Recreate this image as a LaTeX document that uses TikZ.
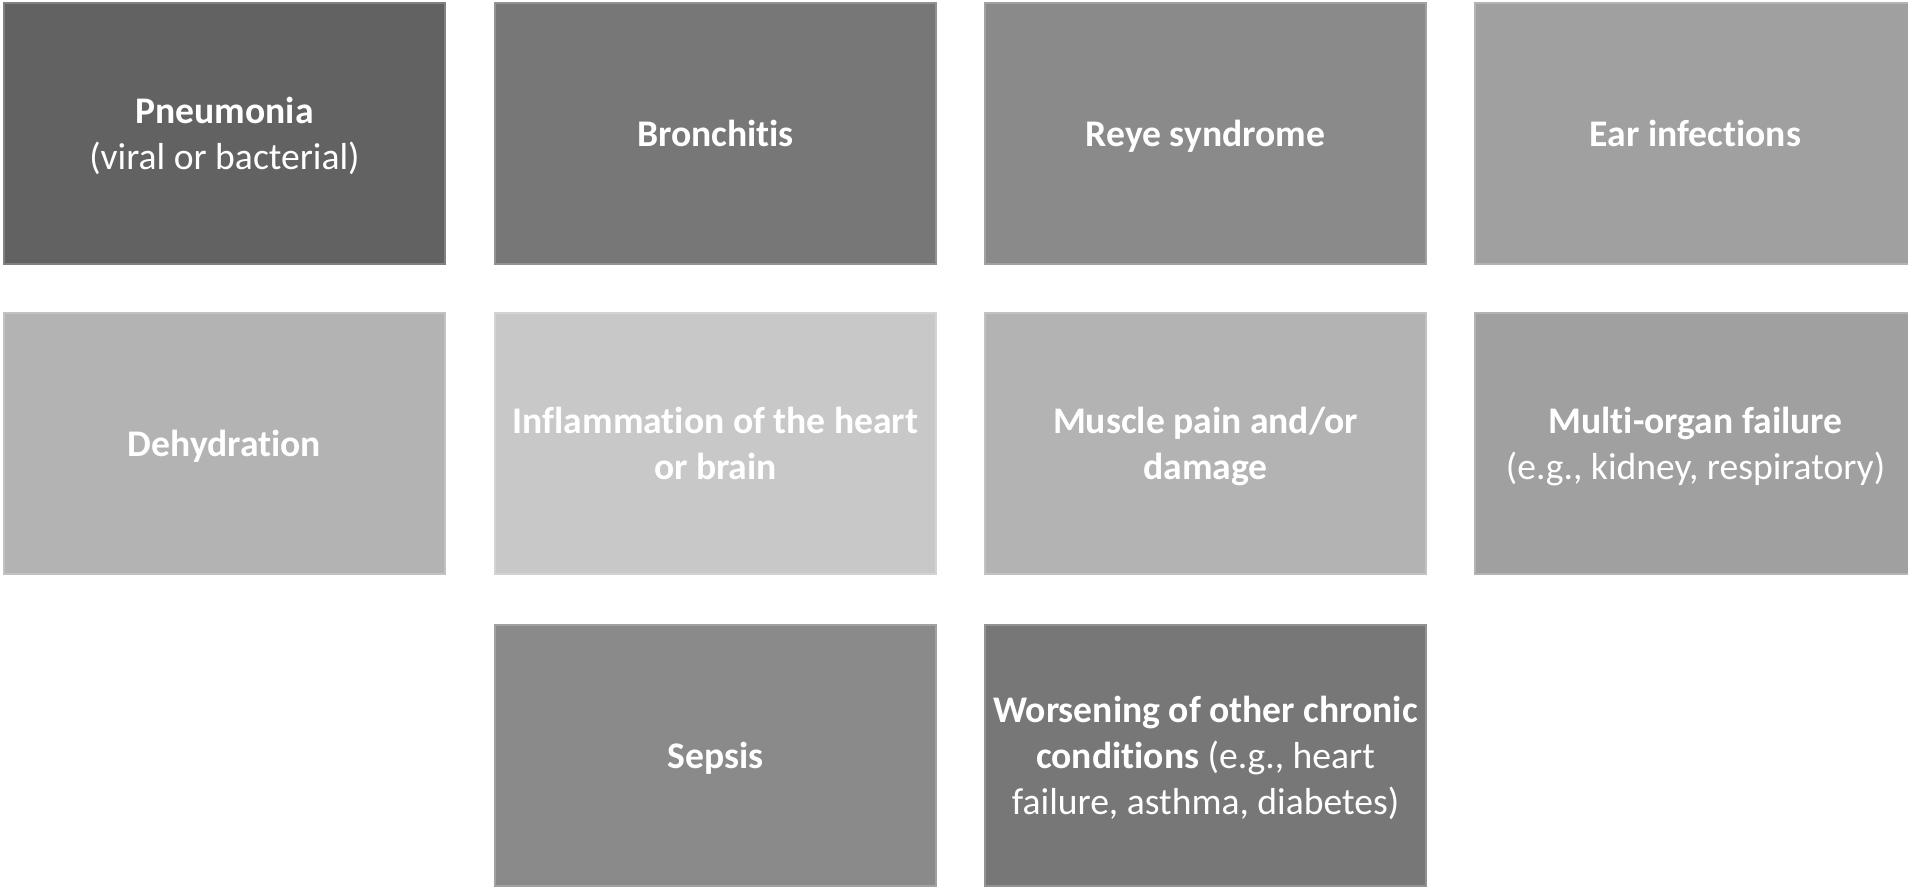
\documentclass[tikz,border=0pt]{standalone}
\usepackage{fontspec}
\setmainfont{Carlito}[RawFeature={-liga;-clig;-calt;-dlig}]
\usepackage{tikz}
\usetikzlibrary{positioning}

\definecolor{greyA}{gray}{0.384}
\definecolor{greyB}{gray}{0.467}
\definecolor{greyC}{gray}{0.541}
\definecolor{greyD}{gray}{0.627}
\definecolor{greyE}{gray}{0.702}
\definecolor{greyF}{gray}{0.784}

\begin{document}
\begin{tikzpicture}[
  tile/.style={rectangle, minimum width=4.41cm, minimum height=2.61cm,
    inner sep=0pt, outer sep=0pt, line width=0.5pt, draw=#1!80!white, fill=#1,
    text=white, align=center, text depth=-1.5pt,
    font=\fontsize{10.7}{13.1}\selectfont}
]

% page frame
\useasboundingbox (0,0) rectangle (19.08,-8.86);
\clip (0,0) rectangle (19.08,-8.86);

% Row 1
\node[tile=greyA] (pneumonia) at (2.245,-1.335) {\textbf{Pneumonia}\\(viral or bacterial)};
\node[tile=greyB] (bronchitis) at (7.155,-1.335) {\textbf{Bronchitis}};
\node[tile=greyC] (reye) at (12.055,-1.335) {\textbf{Reye syndrome}};
\node[tile=greyD] (ear) at (16.955,-1.335) {\textbf{Ear infections}};

% Row 2
\node[tile=greyE] (dehydration) at (2.245,-4.435) {\textbf{Dehydration}};
\node[tile=greyF] (inflammation) at (7.155,-4.435) {\textbf{Inflammation of the heart}\\\textbf{or brain}};
\node[tile=greyE] (muscle) at (12.055,-4.435) {\textbf{Muscle pain and/or}\\\textbf{damage}};
\node[tile=greyD] (organ) at (16.955,-4.435) {\textbf{Multi-organ failure}\\(e.g., kidney, respiratory)};

% Row 3
\node[tile=greyC] (sepsis) at (7.155,-7.555) {\textbf{Sepsis}};
\node[tile=greyB] (chronic) at (12.055,-7.555) {\textbf{Worsening of other chronic}\\\textbf{conditions} (e.g., heart\\failure, asthma, diabetes)};

\end{tikzpicture}
\end{document}
